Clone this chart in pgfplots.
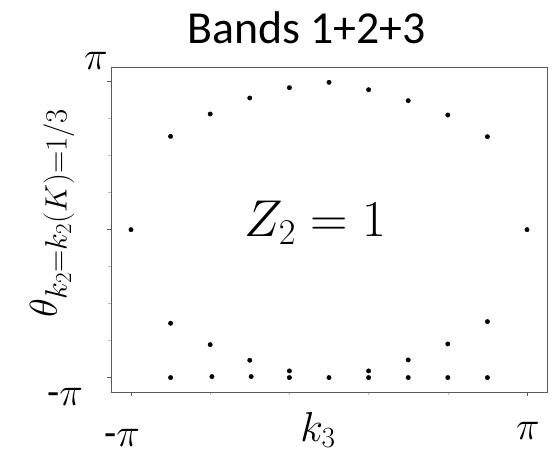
\RequirePackage{fix-cm}
\documentclass[border=0pt]{standalone}
\usepackage{fontspec}
\setmainfont{Carlito}
\usepackage{pgfplots}
\usepackage{pgfplotstable}
\pgfplotsset{compat=1.18}
% larger subscripts for the vertical label
\DeclareMathSizes{39}{39}{31}{23}

% Wilson-loop phases theta versus k3 (k3 = -pi + i*2pi/10)
\pgfplotstableread{
k3        theta
-3.14159   0.000
-2.51327   1.981
-1.88496   2.456
-1.25664   2.796
-0.62832   3.015
 0.00000   3.128
 0.62832   2.972
 1.25664   2.739
 1.88496   2.435
 2.51327   1.974
 3.14159   0.000
-2.51327  -1.988
-1.88496  -2.442
-1.25664  -2.774
-0.62832  -3.000
 0.62832  -3.000
 1.25664  -2.767
 1.88496  -2.427
 2.51327  -1.953
-2.51327  -3.14159
-1.85800  -3.120
-1.23500  -3.120
-0.62832  -3.14159
 0.00000  -3.14159
 0.62832  -3.14159
 1.25664  -3.14159
 1.88496  -3.14159
 2.51327  -3.14159
}\phases

\begin{document}
\begin{tikzpicture}
\begin{axis}[
  scale only axis, width=436bp, height=325bp,
  at={(111bp,-392bp)}, anchor=south west,
  xmin=-3.4586, xmax=3.4586, ymin=-3.448, ymax=3.454,
  axis line style={draw=black!65, line width=1bp},
  xtick={-3.14159,3.14159}, ytick={-3.14159,0,3.14159},
  xticklabels={}, yticklabels={},
  minor xtick={-1.88496,-0.62832,0.62832,1.88496},
  minor ytick={-2.35619,-1.5708,-0.785398,0.785398,1.5708,2.35619},
  tick align=outside, tick pos=left,
  major tick length=4bp, minor tick length=3bp,
  major tick style={black!65, line width=0.8bp},
  minor tick style={black!25, line width=0.6bp},
  clip=false,
]
\addplot[only marks, mark=*, mark size=2.2bp, black] table[x=k3, y=theta] {\phases};
\end{axis}

% title, labels and annotation
\node[font=\fontsize{46}{50}\selectfont] at (306.7bp,-28bp) {Bands 1+2+3};
\node[font=\fontsize{52}{56}\selectfont] at (315bp,-223bp) {$Z_2=1$};
\node[font=\fontsize{42}{46}\selectfont] at (318bp,-430bp) {$k_3$};
\node[rotate=90, font=\fontsize{39}{42}\selectfont] at (52bp,-213bp) {$\theta_{k_2=k_2(K)=1/3}$};

% tick labels
\node[font=\fontsize{40}{44}\selectfont] at (96bp,-61bp) {$\pi$};
\node[font=\fontsize{40}{44}\selectfont] at (65bp,-397bp) {-$\pi$};
\node[font=\fontsize{40}{44}\selectfont] at (122bp,-438bp) {-$\pi$};
\node[font=\fontsize{40}{44}\selectfont] at (528bp,-431bp) {$\pi$};

\pgfresetboundingbox
\path (0bp,0bp) rectangle (556bp,-459bp);
\end{tikzpicture}
\end{document}
